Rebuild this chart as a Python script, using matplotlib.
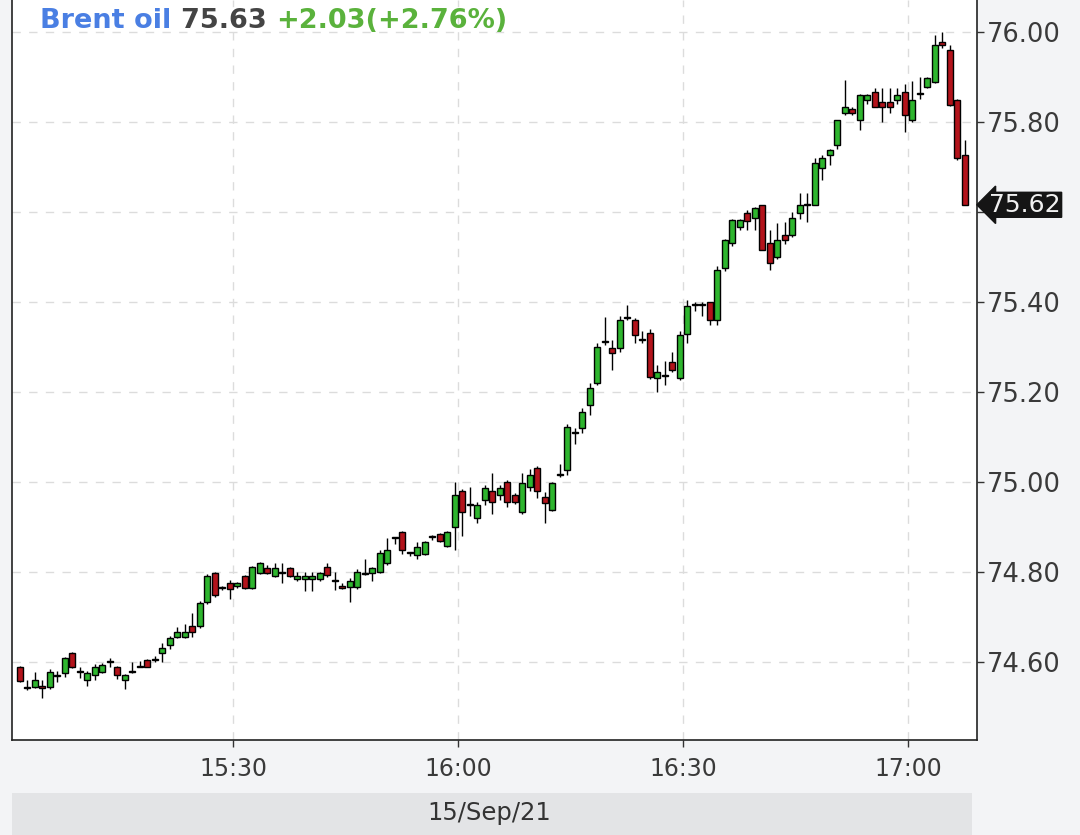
# Brent oil 1-minute candles, 15/Sep/21
import matplotlib
matplotlib.use("Agg")
import matplotlib.pyplot as plt
import matplotlib.dates as mdates
import numpy as np
import pandas as pd

# OHLC values (one candle per minute from 15:01)
opens = [74.589, 74.545, 74.544, 74.546, 74.544, 74.569, 74.576, 74.620, 74.578, 74.560,
         74.571, 74.578, 74.600, 74.589, 74.560, 74.578, 74.589, 74.604, 74.604, 74.620,
         74.638, 74.656, 74.656, 74.680, 74.680, 74.733, 74.798, 74.765, 74.776, 74.768,
         74.791, 74.764, 74.798, 74.809, 74.791, 74.798, 74.809, 74.784, 74.784, 74.784,
         74.784, 74.811, 74.780, 74.768, 74.766, 74.766, 74.795, 74.798, 74.800, 74.820,
         74.875, 74.889, 74.842, 74.838, 74.840, 74.878, 74.884, 74.858, 74.900, 74.980,
         74.950, 74.920, 74.960, 74.980, 74.971, 75.000, 74.971, 74.933, 74.989, 75.031,
         74.967, 74.938, 75.015, 75.027, 75.109, 75.120, 75.171, 75.220, 75.311, 75.298,
         75.298, 75.364, 75.360, 75.316, 75.331, 75.231, 75.235, 75.267, 75.231, 75.330,
         75.393, 75.393, 75.400, 75.360, 75.476, 75.531, 75.567, 75.598, 75.587, 75.616,
         75.531, 75.500, 75.549, 75.549, 75.598, 75.616, 75.616, 75.698, 75.727, 75.749,
         75.820, 75.829, 75.804, 75.849, 75.867, 75.844, 75.844, 75.849, 75.867, 75.804,
         75.862, 75.878, 75.889, 75.978, 75.960, 75.849, 75.727]
highs = [74.592, 74.560, 74.578, 74.560, 74.585, 74.580, 74.612, 74.622, 74.589, 74.580,
         74.595, 74.598, 74.610, 74.591, 74.574, 74.600, 74.603, 74.606, 74.613, 74.642,
         74.657, 74.678, 74.684, 74.710, 74.735, 74.795, 74.800, 74.770, 74.782, 74.778,
         74.793, 74.813, 74.822, 74.815, 74.820, 74.820, 74.812, 74.800, 74.800, 74.800,
         74.800, 74.820, 74.800, 74.776, 74.787, 74.806, 74.830, 74.811, 74.850, 74.875,
         74.878, 74.891, 74.845, 74.867, 74.870, 74.882, 74.887, 74.892, 75.000, 74.985,
         74.990, 74.955, 74.993, 75.020, 74.993, 75.005, 74.975, 75.020, 75.030, 75.035,
         74.978, 75.000, 75.040, 75.130, 75.120, 75.165, 75.220, 75.310, 75.367, 75.315,
         75.370, 75.393, 75.365, 75.335, 75.340, 75.260, 75.270, 75.290, 75.336, 75.405,
         75.400, 75.400, 75.400, 75.480, 75.540, 75.585, 75.585, 75.605, 75.612, 75.616,
         75.560, 75.575, 75.578, 75.600, 75.642, 75.642, 75.720, 75.727, 75.740, 75.804,
         75.893, 75.833, 75.862, 75.862, 75.876, 75.876, 75.876, 75.876, 75.885, 75.890,
         75.900, 75.900, 75.993, 76.000, 75.970, 75.850, 75.760]
lows = [74.555, 74.538, 74.542, 74.520, 74.540, 74.555, 74.567, 74.586, 74.565, 74.547,
        74.560, 74.575, 74.590, 74.562, 74.540, 74.575, 74.588, 74.588, 74.600, 74.600,
        74.630, 74.654, 74.654, 74.655, 74.675, 74.730, 74.745, 74.760, 74.740, 74.765,
        74.762, 74.762, 74.796, 74.795, 74.788, 74.776, 74.788, 74.780, 74.758, 74.758,
        74.780, 74.790, 74.760, 74.762, 74.733, 74.762, 74.793, 74.780, 74.798, 74.815,
        74.862, 74.840, 74.836, 74.830, 74.838, 74.872, 74.866, 74.855, 74.850, 74.880,
        74.925, 74.910, 74.950, 74.930, 74.960, 74.945, 74.952, 74.930, 74.980, 74.965,
        74.910, 74.935, 75.012, 75.015, 75.085, 75.110, 75.150, 75.215, 75.305, 75.250,
        75.290, 75.360, 75.310, 75.310, 75.230, 75.200, 75.215, 75.245, 75.227, 75.310,
        75.380, 75.370, 75.350, 75.350, 75.470, 75.525, 75.560, 75.560, 75.560, 75.516,
        75.471, 75.495, 75.530, 75.545, 75.585, 75.578, 75.616, 75.670, 75.705, 75.740,
        75.815, 75.815, 75.782, 75.840, 75.833, 75.800, 75.820, 75.840, 75.778, 75.800,
        75.850, 75.875, 75.887, 75.965, 75.835, 75.715, 75.615]
closes = [74.558, 74.543, 74.560, 74.543, 74.578, 74.570, 74.609, 74.589, 74.577, 74.576,
          74.589, 74.593, 74.600, 74.571, 74.571, 74.578, 74.590, 74.589, 74.605, 74.631,
          74.653, 74.667, 74.667, 74.667, 74.731, 74.791, 74.749, 74.765, 74.762, 74.775,
          74.764, 74.811, 74.820, 74.798, 74.809, 74.797, 74.791, 74.791, 74.791, 74.791,
          74.797, 74.793, 74.780, 74.764, 74.780, 74.800, 74.795, 74.809, 74.842, 74.849,
          74.875, 74.849, 74.842, 74.856, 74.867, 74.878, 74.869, 74.889, 74.971, 74.933,
          74.950, 74.950, 74.986, 74.956, 74.987, 74.956, 74.956, 74.998, 75.016, 74.980,
          74.953, 74.998, 75.015, 75.122, 75.109, 75.156, 75.209, 75.300, 75.311, 75.287,
          75.360, 75.364, 75.327, 75.316, 75.233, 75.245, 75.235, 75.249, 75.327, 75.391,
          75.393, 75.393, 75.360, 75.471, 75.538, 75.582, 75.582, 75.580, 75.609, 75.516,
          75.487, 75.538, 75.538, 75.587, 75.616, 75.616, 75.709, 75.720, 75.738, 75.804,
          75.833, 75.820, 75.860, 75.860, 75.833, 75.833, 75.833, 75.860, 75.816, 75.849,
          75.862, 75.898, 75.971, 75.971, 75.838, 75.720, 75.616]

price_ticks = [74.60, 74.80, 75.00, 75.20, 75.40, 75.60, 75.80, 76.00]
last_price = "75.62"
date_label = "15/Sep/21"

times = pd.date_range("2021-09-15 15:01", periods=len(opens), freq="min") + pd.Timedelta(seconds=35)
t = mdates.date2num(times)

o = np.array(opens)
h = np.array(highs)
l = np.array(lows)
c = np.array(closes)

colors = []
for oo, cc in zip(o, c):
    if cc > oo:
        colors.append("#2eb52e")
    elif cc < oo:
        colors.append("#b3131b")
    else:
        colors.append("black")

fig = plt.figure(figsize=(10.8, 8.35), dpi=100, facecolor="#f3f4f6")
ax = fig.add_axes([12 / 1080, 1 - 740 / 835, 965 / 1080, 740 / 835])
ax.set_facecolor("white")

one_min = 1 / 1440
# wicks
ax.vlines(t, l, h, color="black", linewidth=1, zorder=3)
# bodies
body = np.maximum(np.abs(c - o), 0.002)
ax.bar(t, body, bottom=np.minimum(o, c), width=0.8 * one_min, color=colors,
       edgecolor="black", linewidth=1.0, zorder=4)

# axes limits
x0 = mdates.date2num(pd.Timestamp("2021-09-15 15:00:32"))
x1 = mdates.date2num(pd.Timestamp("2021-09-15 17:09:12"))
ax.set_xlim(x0, x1)
ax.set_ylim(74.4267, 76.0711)

# ticks (the 75.60 label sits under the last price tag)
ax.xaxis.set_major_locator(mdates.MinuteLocator(byminute=[0, 30]))
ax.xaxis.set_major_formatter(mdates.DateFormatter("%H:%M"))
ax.set_yticks(price_ticks)
ax.set_yticklabels(["" if "%.2f" % p == "75.60" else "%.2f" % p for p in price_ticks])
ax.yaxis.tick_right()
ax.tick_params(axis="both", direction="out", length=5, width=1, color="#333333",
               labelcolor="#3a3a3a", labelsize=17)
ax.tick_params(axis="y", pad=2, labelsize=18.5)
ax.tick_params(axis="x", pad=7)

ax.grid(True, color="#dcdcdc", linestyle=(0, (6, 6)), linewidth=1)
ax.set_axisbelow(True)

ax.spines["top"].set_visible(False)
for s in ["left", "right", "bottom"]:
    ax.spines[s].set_color("#222222")
    ax.spines[s].set_linewidth(1.2)

# last price tag
ax.annotate(last_price, xy=(1, c[-1]), xycoords=("axes fraction", "data"),
            xytext=(9, 0), textcoords="offset points", ha="left", va="center",
            color="#f0f0f0", fontsize=18, annotation_clip=False, zorder=10,
            bbox=dict(boxstyle="larrow,pad=0.02", fc="#151515", ec="#151515"))

# header text in three colours
t1 = fig.text(40 / 1080, 1 - 28 / 835, "Brent oil ", color="#4a7fe3", fontsize=19.5,
              fontweight="bold", va="baseline")
t2 = ax.annotate("75.63 ", xy=(1, 0), xycoords=t1, va="bottom", color="#444444",
                 fontsize=19.5, fontweight="bold", annotation_clip=False)
t3 = ax.annotate("+2.03(+2.76%)", xy=(1, 0), xycoords=t2, va="bottom", color="#5ab23c",
                 fontsize=19.5, fontweight="bold", annotation_clip=False)

# date band at the bottom
fig.patches.append(plt.Rectangle((12 / 1080, 0), 960 / 1080, 42 / 835, transform=fig.transFigure,
                                 facecolor="#e3e4e6", edgecolor="none"))
fig.text(489 / 1080, 22 / 835, date_label, ha="center", va="center", color="#333333", fontsize=17.5)

plt.savefig("out.png", dpi=100, facecolor=fig.get_facecolor())
